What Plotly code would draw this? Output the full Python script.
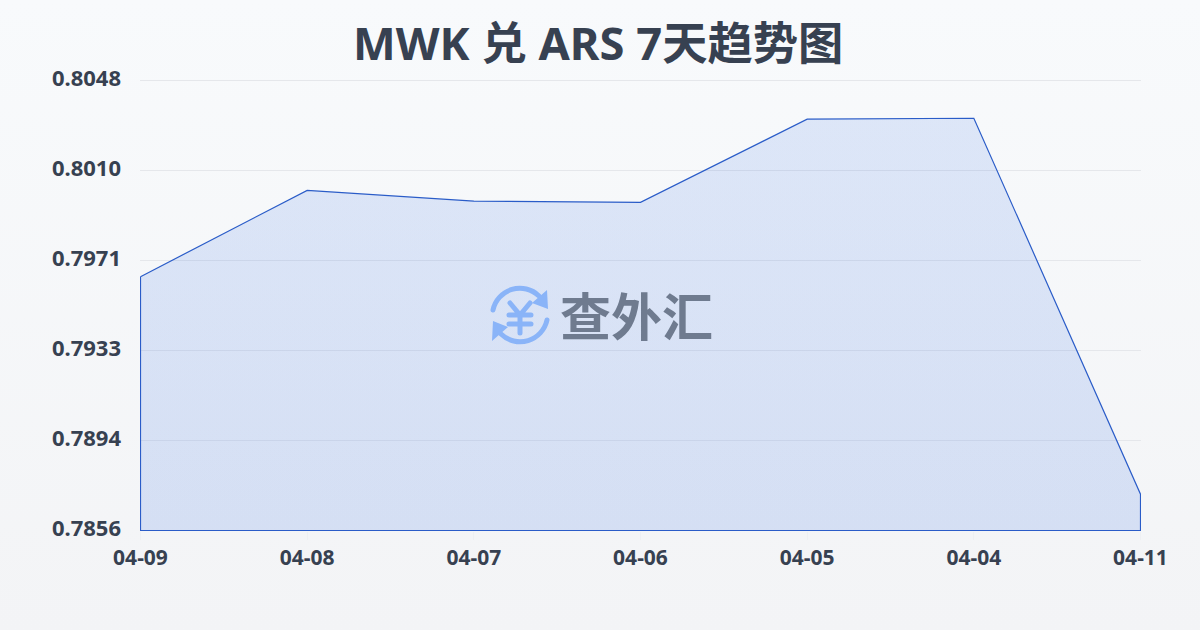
import base64
import plotly.graph_objects as go

title_text = "MWK 兑 ARS 7天趋势图"
watermark = "查外汇"
dates = ["04-09", "04-08", "04-07", "04-06", "04-05", "04-04", "04-11"]
rates = [0.79643, 0.80011, 0.79965, 0.79960, 0.80315, 0.80319, 0.78715]
y_ticks = [0.7856, 0.78944, 0.79328, 0.79712, 0.80096, 0.8048]
y_min, y_max = y_ticks[0], y_ticks[-1]

FONT = "'Noto Sans','Noto Sans CJK SC',sans-serif"
TEXT = "#374151"
LINE = "#2a5cc8"
GRID = "#e5e7eb"

# plot box is one pixel larger than the data span so outline edges land on whole pixel rows
L, T, PW, PH = 140, 80, 1001, 451
half_x = 0.5 * (len(dates) - 1) / (PW - 1)
half_y = 0.5 * (y_max - y_min) / (PH - 1)


def uri(svg):
    return "data:image/svg+xml;base64," + base64.b64encode(svg.encode()).decode()


def px(x):
    return (x - L) / PW


def py(y):
    return (T + PH - y) / PH


bg_svg = ('<svg xmlns="http://www.w3.org/2000/svg" width="1200" height="630" preserveAspectRatio="none">'
          '<defs><linearGradient id="g" x1="0" y1="0" x2="0" y2="1"><stop offset="0" stop-color="#f8fafc"/>'
          '<stop offset="1" stop-color="#f3f4f6"/></linearGradient></defs>'
          '<rect width="1200" height="630" fill="url(#g)"/></svg>')
icon_svg = ('<svg xmlns="http://www.w3.org/2000/svg" width="64" height="64" viewBox="0 0 64 64">'
            '<g fill="none" stroke="#8ab4f8" stroke-width="5" stroke-linecap="round" stroke-linejoin="round">'
            '<path d="M5 27 A27.5 27.5 0 0 1 51 13"/><path d="M59 37 A27.5 27.5 0 0 1 13 51"/>'
            '<path d="M22 20 L32 32 L42 20 M32 32 V50 M21 32 H43 M21 41 H43"/></g>'
            '<path d="M44 20 L59 7 L60 26 Z M20 44 L5 38 L4 58 Z" fill="#8ab4f8"/></svg>')

# closed outline: data series, then back along the axis floor
xs = dates + [dates[-1], dates[0], dates[0]]
ys = rates + [y_min, y_min, rates[0]]

fig = go.Figure(go.Scatter(
    x=xs, y=ys, mode="lines", fill="toself", cliponaxis=False,
    line=dict(color=LINE, width=1.2),
    fillgradient=dict(type="vertical", colorscale=[[0, "rgba(37,99,225,0.15)"], [1, "rgba(37,99,225,0.125)"]]),
    hoverinfo="skip", showlegend=False,
))
fig.update_layout(
    width=1200, height=630,
    margin=dict(l=L, r=1200 - L - PW, t=T, b=630 - T - PH),
    paper_bgcolor="#f5f7fa", plot_bgcolor="rgba(0,0,0,0)",
    font=dict(family=FONT, color=TEXT),
    title=dict(text=f"<b>{title_text}</b>", x=0.4985, xanchor="center", y=0.93, yanchor="middle",
               font=dict(size=45.3, color=TEXT, family=FONT)),
    xaxis=dict(type="category", categoryorder="array", categoryarray=dates,
               range=[-half_x, len(dates) - 1 + half_x],
               showgrid=False, zeroline=False, showline=False, ticks="outside", ticklen=8, tickwidth=1,
               tickcolor="#eef0f3",
               tickfont=dict(size=21, color=TEXT, family=FONT, weight="bold"), ticklabelstandoff=0),
    yaxis=dict(range=[y_min - half_y, y_max + half_y], tickvals=y_ticks, tickformat=".4f", showgrid=True,
               gridcolor=GRID, gridwidth=1, zeroline=False, showline=False, ticks="",
               tickfont=dict(size=22, color=TEXT, family=FONT, weight="bold"), ticklabelstandoff=18,
               ticklabelshift=-2),
    shapes=[dict(type="line", xref="paper", yref="y", x0=0, x1=1, y0=y_max, y1=y_max,
                 line=dict(color=GRID, width=1), layer="below")],
    images=[
        dict(source=uri(bg_svg), xref="paper", yref="paper", x=px(0), y=py(0), sizex=1200 / PW, sizey=630 / PH,
             sizing="stretch", xanchor="left", yanchor="top", layer="below"),
        dict(source=uri(icon_svg), xref="paper", yref="paper", x=px(488), y=py(315),
             sizex=64 / PW, sizey=64 / PH, sizing="contain", xanchor="left", yanchor="middle", layer="above"),
    ],
    annotations=[dict(text=f"<b>{watermark}</b>", xref="paper", yref="paper", x=px(636),
                      y=py(314), showarrow=False, xanchor="center", yanchor="middle",
                      font=dict(size=51, color="#6f7b8f", family="'Noto Sans CJK SC'"))],
)
fig.write_html("out.html", config={"displayModeBar": False}, post_script="document.body.style.margin='0';")
